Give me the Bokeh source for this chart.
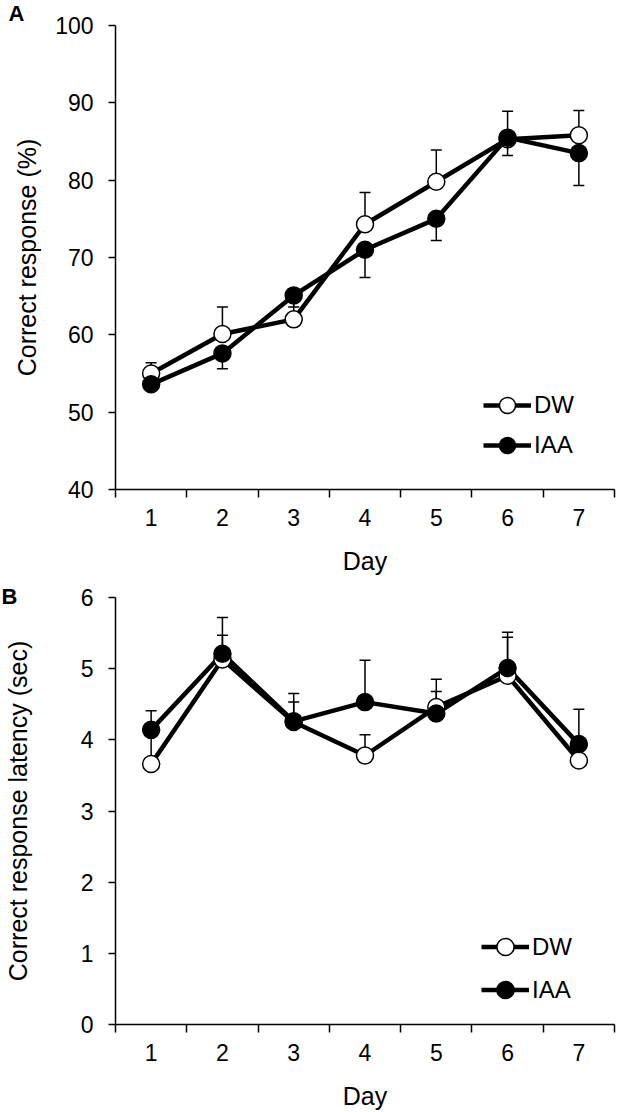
from bokeh.plotting import figure
from bokeh.layouts import column
from bokeh.models import FixedTicker, Range1d, Legend, LegendItem, Title
from bokeh.embed import file_html
from bokeh.resources import INLINE

# ---------------- data ----------------
days = [1, 2, 3, 4, 5, 6, 7]
series_names = ["DW", "IAA"]

# Panel A: correct response (%)
dw_a = [55.0, 60.1, 62.0, 74.3, 79.8, 85.3, 85.8]
iaa_a = [53.6, 57.6, 65.1, 71.0, 75.0, 85.5, 83.5]
dw_a_err = [1.4, 3.5, 2.6, 4.1, 4.1, 3.6, 3.2]      # drawn upward
iaa_a_err = [0.8, 2.0, 1.5, 3.6, 2.8, 2.3, 4.2]     # drawn downward
ticks_a = [40, 50, 60, 70, 80, 90, 100]

# Panel B: correct response latency (sec)
dw_b = [3.66, 5.13, 4.25, 3.78, 4.46, 4.90, 3.71]
iaa_b = [4.14, 5.21, 4.26, 4.53, 4.37, 5.01, 3.94]
dw_b_err = [0.45, 0.34, 0.28, 0.29, 0.22, 0.54, 0.20]   # upward
iaa_b_err = [0.27, 0.51, 0.39, 0.59, 0.48, 0.50, 0.49]  # upward
ticks_b = [0, 1, 2, 3, 4, 5, 6]

FONT = "Liberation Sans"
TICK_FS = "23px"
TITLE_FS = "25px"
LEG_FS = "24px"


def make_panel(width, height, borders, yr, yticks, ytitle, ytitle_standoff, series, errs,
               err_dirs, leg_loc, leg_row, letter, letter_offset, letter_standoff):
    left, right, top, bottom = borders
    title = Title(text=letter, align="left", vertical_align="middle",
                  offset=letter_offset, standoff=letter_standoff,
                  text_font=FONT, text_font_size="22px", text_font_style="bold",
                  text_color="black")
    p = figure(width=width, height=height, output_backend="svg", toolbar_location=None,
               x_range=Range1d(0.5, 7.5), y_range=Range1d(*yr), title=title,
               min_border_left=left, min_border_right=right,
               min_border_top=top, min_border_bottom=bottom,
               background_fill_color="white", border_fill_color="white")
    p.outline_line_color = None
    p.grid.visible = False

    # x axis
    xa = p.xaxis[0]
    xa.ticker = FixedTicker(ticks=days, minor_ticks=[d - 0.5 for d in days] + [7.5])
    xa.major_label_overrides = {d: str(d) for d in days}
    xa.major_tick_line_color = None
    xa.major_tick_out = 8
    xa.major_tick_in = 0
    xa.minor_tick_line_color = "black"
    xa.minor_tick_line_width = 1.5
    xa.minor_tick_out = 8
    xa.minor_tick_in = 0
    xa.axis_line_width = 1.5
    xa.axis_line_color = "black"
    xa.major_label_text_font = FONT
    xa.major_label_text_font_size = TICK_FS
    xa.major_label_text_color = "black"
    xa.major_label_standoff = 11
    xa.axis_label = "Day"
    xa.axis_label_text_font = FONT
    xa.axis_label_text_font_size = TITLE_FS
    xa.axis_label_text_font_style = "normal"
    xa.axis_label_text_color = "black"
    xa.axis_label_standoff = 18

    # y axis
    ya = p.yaxis[0]
    ya.ticker = FixedTicker(ticks=yticks)
    ya.major_tick_line_color = "black"
    ya.major_tick_line_width = 1.5
    ya.major_tick_out = 7
    ya.major_tick_in = 0
    ya.minor_tick_line_color = None
    ya.axis_line_width = 1.5
    ya.axis_line_color = "black"
    ya.major_label_text_font = FONT
    ya.major_label_text_font_size = TICK_FS
    ya.major_label_text_color = "black"
    ya.major_label_standoff = 15
    ya.axis_label = ytitle
    ya.axis_label_text_font = FONT
    ya.axis_label_text_font_size = TITLE_FS
    ya.axis_label_text_font_style = "normal"
    ya.axis_label_text_color = "black"
    ya.axis_label_standoff = ytitle_standoff

    # error bars
    for vals, err, d in zip(series, errs, err_dirs):
        ends = [v + d * e for v, e in zip(vals, err)]
        p.segment(x0=days, y0=vals, x1=days, y1=ends, line_color="black", line_width=1.5)
        p.scatter(x=days, y=ends, marker="dash", size=11, line_color="black", line_width=1.5)

    # lines
    line_rs = []
    for vals in series:
        line_rs.append(p.line(days, vals, line_color="black", line_width=4.5))
    # markers
    dw_m = p.scatter(days, series[0], marker="circle", size=17, fill_color="white",
                     line_color="black", line_width=1.5)
    iaa_m = p.scatter(days, series[1], marker="circle", size=17, fill_color="black",
                      line_color="black", line_width=1.5)

    legend = Legend(items=[LegendItem(label=series_names[0], renderers=[line_rs[0], dw_m]),
                           LegendItem(label=series_names[1], renderers=[line_rs[1], iaa_m])],
                    location=leg_loc, padding=0, margin=0, spacing=0,
                    glyph_width=48, glyph_height=leg_row, label_height=leg_row,
                    label_standoff=3, border_line_color=None, background_fill_alpha=0,
                    label_text_font=FONT, label_text_font_size=LEG_FS,
                    label_text_color="black")
    p.add_layout(legend)
    return p


pa = make_panel(620, 580, (102, 2, 25, 91), (40, 100), ticks_a, "Correct response (%)", 11,
                [dw_a, iaa_a], [dw_a_err, iaa_a_err], [1, -1],
                (368, 24), 40, "A", -107, -1.6)
pb = make_panel(620, 532, (111, 6, 17, 87), (0, 6), ticks_b, "Correct response latency (sec)", 46,
                [dw_b, iaa_b], [dw_b_err, iaa_b_err], [1, 1],
                (366, 13), 43, "B", -114, -24)

layout = column(pa, pb, spacing=0)

open("out.html", "w").write(file_html(layout, INLINE))
